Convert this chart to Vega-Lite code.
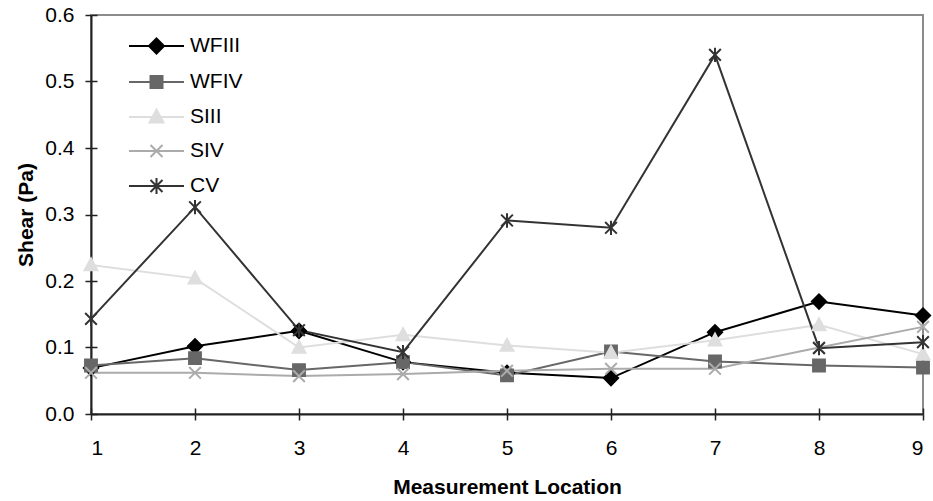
{
  "$schema": "https://vega.github.io/schema/vega-lite/v6.json",
  "width": 832,
  "height": 399,
  "autosize": {"type": "none"},
  "padding": {"left": 91, "top": 15, "right": 10, "bottom": 87},
  "background": "white",
  "config": {
    "font": "Liberation Sans",
    "view": {"stroke": "#8c8c8c", "strokeWidth": 2},
    "axis": {
      "grid": false,
      "labelFont": "Liberation Sans",
      "labelFontSize": 21,
      "labelColor": "#000000",
      "titleFont": "Liberation Sans",
      "titleFontSize": 21,
      "titleFontWeight": "bold",
      "titleColor": "#000000",
      "domainColor": "#222222",
      "domainWidth": 2,
      "tickColor": "#222222",
      "tickWidth": 1.5,
      "tickSize": 6
    },
    "legend": {
      "orient": "none", "legendX": 54.5, "legendY": 20, "title": null, "padding": 0,
      "symbolSize": 400, "rowPadding": 13, "labelFontSize": 21, "labelOffset": 22.5,
      "labelColor": "#000000", "labelFont": "Liberation Sans", "symbolStrokeWidth": 2
    }
  },
  "data": {
    "values": [
      {"loc": 1, "series": "WFIII", "shear": 0.069},
      {"loc": 2, "series": "WFIII", "shear": 0.102},
      {"loc": 3, "series": "WFIII", "shear": 0.125},
      {"loc": 4, "series": "WFIII", "shear": 0.078},
      {"loc": 5, "series": "WFIII", "shear": 0.062},
      {"loc": 6, "series": "WFIII", "shear": 0.054},
      {"loc": 7, "series": "WFIII", "shear": 0.123},
      {"loc": 8, "series": "WFIII", "shear": 0.169},
      {"loc": 9, "series": "WFIII", "shear": 0.148},
      {"loc": 1, "series": "WFIV", "shear": 0.073},
      {"loc": 2, "series": "WFIV", "shear": 0.084},
      {"loc": 3, "series": "WFIV", "shear": 0.066},
      {"loc": 4, "series": "WFIV", "shear": 0.078},
      {"loc": 5, "series": "WFIV", "shear": 0.058},
      {"loc": 6, "series": "WFIV", "shear": 0.094},
      {"loc": 7, "series": "WFIV", "shear": 0.079},
      {"loc": 8, "series": "WFIV", "shear": 0.073},
      {"loc": 9, "series": "WFIV", "shear": 0.070},
      {"loc": 1, "series": "SIII", "shear": 0.224},
      {"loc": 2, "series": "SIII", "shear": 0.204},
      {"loc": 3, "series": "SIII", "shear": 0.100},
      {"loc": 4, "series": "SIII", "shear": 0.119},
      {"loc": 5, "series": "SIII", "shear": 0.103},
      {"loc": 6, "series": "SIII", "shear": 0.092},
      {"loc": 7, "series": "SIII", "shear": 0.111},
      {"loc": 8, "series": "SIII", "shear": 0.134},
      {"loc": 9, "series": "SIII", "shear": 0.090},
      {"loc": 1, "series": "SIV", "shear": 0.062},
      {"loc": 2, "series": "SIV", "shear": 0.062},
      {"loc": 3, "series": "SIV", "shear": 0.057},
      {"loc": 4, "series": "SIV", "shear": 0.060},
      {"loc": 5, "series": "SIV", "shear": 0.065},
      {"loc": 6, "series": "SIV", "shear": 0.068},
      {"loc": 7, "series": "SIV", "shear": 0.068},
      {"loc": 8, "series": "SIV", "shear": 0.100},
      {"loc": 9, "series": "SIV", "shear": 0.131},
      {"loc": 1, "series": "CV", "shear": 0.143},
      {"loc": 2, "series": "CV", "shear": 0.311},
      {"loc": 3, "series": "CV", "shear": 0.126},
      {"loc": 4, "series": "CV", "shear": 0.093},
      {"loc": 5, "series": "CV", "shear": 0.291},
      {"loc": 6, "series": "CV", "shear": 0.280},
      {"loc": 7, "series": "CV", "shear": 0.540},
      {"loc": 8, "series": "CV", "shear": 0.099},
      {"loc": 9, "series": "CV", "shear": 0.108}
    ]
  },
  "layer": [
    {
      "mark": {"type": "line", "strokeWidth": 2},
      "encoding": {
        "x": {
          "field": "loc", "type": "quantitative",
          "scale": {"domain": [1, 9], "nice": false, "zero": false},
          "axis": {"values": [1, 2, 3, 4, 5, 6, 7, 8, 9], "format": "d", "title": "Measurement Location", "labelPadding": 17, "titlePadding": 18}
        },
        "y": {
          "field": "shear", "type": "quantitative",
          "scale": {"domain": [0, 0.6], "nice": false},
          "axis": {"values": [0, 0.1, 0.2, 0.3, 0.4, 0.5, 0.6], "format": ".1f", "title": "Shear (Pa)", "labelPadding": 11, "titlePadding": 8}
        },
        "color": {
          "field": "series", "type": "nominal",
          "scale": {"domain": ["WFIII", "WFIV", "SIII", "SIV", "CV"], "range": ["#000000", "#676767", "#dedede", "#ababab", "#333333"]},
          "legend": {
            "encode": {
              "symbols": {
                "update": {
                  "shape": {"signal": "datum.value === 'WFIII' ? 'M-2.75,0H2.75M0,-0.75L0.75,0L0,0.75L-0.75,0Z' : datum.value === 'WFIV' ? 'M-2.75,0H2.75M-0.6,-0.6H0.6V0.6H-0.6Z' : datum.value === 'SIII' ? 'M-2.75,0H2.75M0,-0.75L0.7,0.55H-0.7Z' : datum.value === 'SIV' ? 'M-2.75,0H2.75M-0.6,-0.6L0.6,0.6M-0.6,0.6L0.6,-0.6' : 'M-2.75,0H2.75M-0.6,-0.6L0.6,0.6M-0.6,0.6L0.6,-0.6M0,-0.8V0.8'"},
                  "fill": {"signal": "scale('color', datum.value)"},
                  "strokeWidth": {"value": 2},
                  "opacity": {"value": 1}
                }
              }
            }
          }
        }
      }
    },
    {
      "transform": [{"filter": "datum.series === 'WFIII'"}],
      "mark": {"type": "point", "filled": true, "shape": "M0,-1.15L1.15,0L0,1.15L-1.15,0Z", "size": 169, "fill": "#000000", "stroke": "#000000", "strokeWidth": 1.5, "opacity": 1},
      "encoding": {
        "x": {
          "field": "loc", "type": "quantitative",
          "axis": {"orient": "bottom", "offset": -6, "domain": false, "labels": false, "title": null, "values": [1, 2, 3, 4, 5, 6, 7, 8, 9]}
        },
        "y": {
          "field": "shear", "type": "quantitative",
          "axis": {"orient": "left", "offset": -6, "domain": false, "labels": false, "title": null, "values": [0, 0.1, 0.2, 0.3, 0.4, 0.5, 0.6]}
        }
      }
    },
    {
      "transform": [{"filter": "datum.series === 'WFIV'"}],
      "mark": {"type": "point", "filled": true, "shape": "M-0.95,-0.95H0.95V0.95H-0.95Z", "size": 169, "fill": "#676767", "stroke": "#676767", "strokeWidth": 1.5, "opacity": 1},
      "encoding": {
        "x": {"field": "loc", "type": "quantitative", "axis": null},
        "y": {"field": "shear", "type": "quantitative", "axis": null}
      }
    },
    {
      "transform": [{"filter": "datum.series === 'SIII'"}],
      "mark": {"type": "point", "filled": true, "shape": "M0,-1.1L1.05,0.85H-1.05Z", "size": 169, "fill": "#dedede", "stroke": "#dedede", "strokeWidth": 1.5, "opacity": 1},
      "encoding": {
        "x": {"field": "loc", "type": "quantitative", "axis": null},
        "y": {"field": "shear", "type": "quantitative", "axis": null}
      }
    },
    {
      "transform": [{"filter": "datum.series === 'SIV'"}],
      "mark": {"type": "point", "filled": true, "shape": "M-0.9,-0.9L0.9,0.9M-0.9,0.9L0.9,-0.9", "size": 169, "fill": "#ababab", "stroke": "#ababab", "strokeWidth": 2, "opacity": 1},
      "encoding": {
        "x": {"field": "loc", "type": "quantitative", "axis": null},
        "y": {"field": "shear", "type": "quantitative", "axis": null}
      }
    },
    {
      "transform": [{"filter": "datum.series === 'CV'"}],
      "mark": {"type": "point", "filled": true, "shape": "M-0.9,-0.9L0.9,0.9M-0.9,0.9L0.9,-0.9M0,-1.1V1.1", "size": 169, "fill": "#333333", "stroke": "#333333", "strokeWidth": 2, "opacity": 1},
      "encoding": {
        "x": {"field": "loc", "type": "quantitative", "axis": null},
        "y": {"field": "shear", "type": "quantitative", "axis": null}
      }
    }
  ],
  "resolve": {"axis": {"x": "independent", "y": "independent"}}
}
